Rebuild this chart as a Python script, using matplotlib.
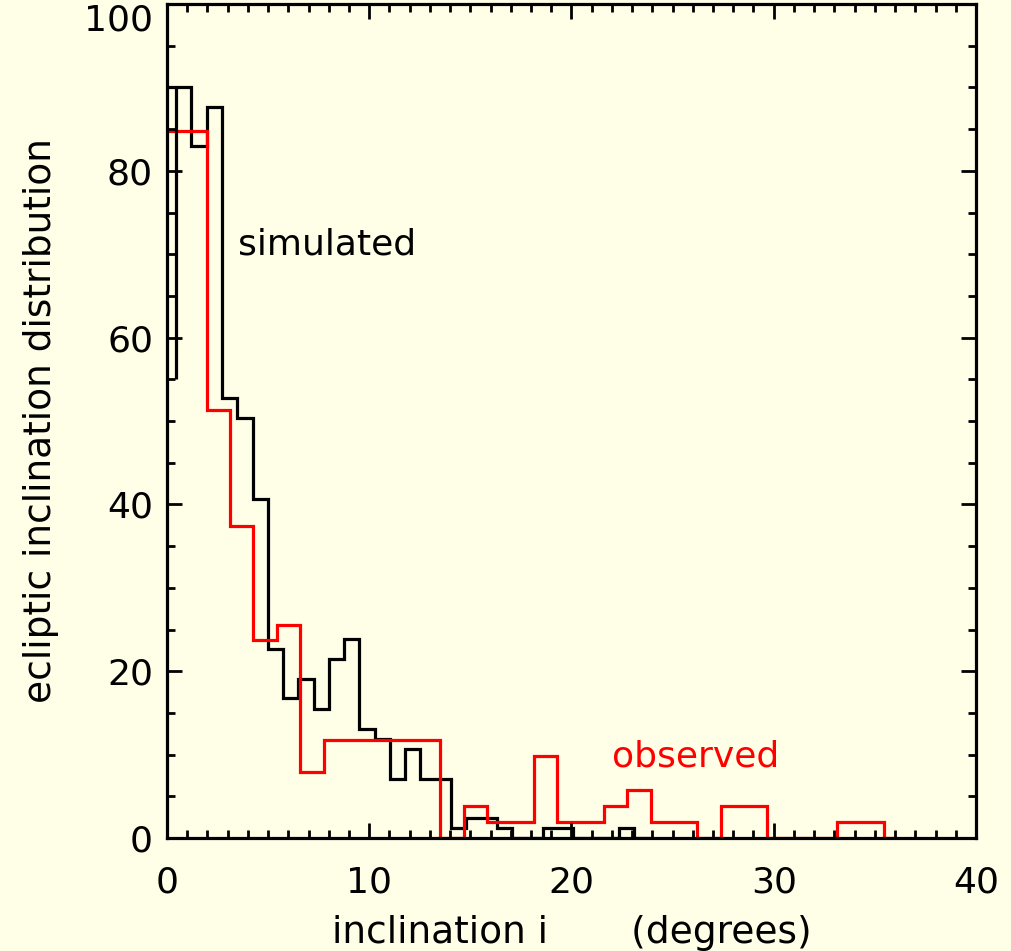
import matplotlib
matplotlib.use("Agg")
import matplotlib.pyplot as plt
import numpy as np

plt.rcParams['font.family'] = ['DejaVu Sans']

# simulated distribution (0.755 deg bins)
sim_edges = [0.0, 0.45, 1.21, 1.96, 2.72, 3.47, 4.23, 4.98, 5.74, 6.49, 7.25,
             8.0, 8.76, 9.51, 10.27, 11.02, 11.78, 12.53, 13.29, 14.04, 14.8,
             15.55, 16.31, 17.06, 17.82, 18.57, 19.33, 20.08, 20.84, 21.59,
             22.35, 23.1, 23.86]
sim_vals = [90.0, 90.0, 83.0, 87.6, 52.8, 50.4, 40.7, 22.7, 16.8, 19.1, 15.5,
            21.5, 23.9, 13.1, 11.9, 7.1, 10.7, 7.1, 7.1, 1.2, 2.4,
            2.4, 1.2, 0.0, 0.0, 1.2, 1.2, 0.0, 0.0, 0.0,
            1.2, 0.0]
sim_start = 55.0

# observed distribution (1.155 deg bins)
obs_edges = [0.0, 1.96, 3.11, 4.27, 5.42, 6.58, 7.74, 8.89, 10.05, 11.2, 12.36,
             13.51, 14.67, 15.82, 16.98, 18.13, 19.29, 20.44, 21.6, 22.75,
             23.91, 25.06, 26.22, 27.37, 28.53, 29.68, 30.84, 31.99, 33.15,
             34.3, 35.46, 36.0]
obs_vals = [84.8, 51.3, 37.4, 23.7, 25.5, 7.9, 11.75, 11.75, 11.75, 11.75,
            11.75, 0.0, 3.8, 1.96, 1.96, 9.8, 1.96, 1.96, 3.8, 5.8,
            1.96, 1.96, 0.0, 3.8, 3.8, 0.0, 0.0, 0.0, 1.9,
            1.9, 0.0]

xticks = [0, 10, 20, 30, 40]
yticks = [0, 20, 40, 60, 80, 100]
ytick_labels = ['0', '20', '40', '60', '80', '100']

bg = '#fffee6'
fs = 26
fig = plt.figure(figsize=(10.12, 9.51), dpi=100, facecolor=bg)
ax = fig.add_axes([0.165, 0.1188, 0.7994, 0.877])
ax.set_facecolor(bg)

ax.stairs(sim_vals, sim_edges, color='black', lw=2.3, baseline=None)
ax.vlines(sim_edges[1], sim_start, sim_vals[1], color='black', lw=2.3)
ax.stairs(obs_vals, obs_edges, color='red', lw=2.3, baseline=None)

ax.set_xlim(0, 40)
ax.set_ylim(0, 100)
ax.set_xticks(xticks)
ax.set_xticks(np.arange(0, 41, 1), minor=True)
ax.set_yticks(yticks)
ax.set_yticklabels(ytick_labels)
ax.set_yticks(np.arange(0, 101, 5), minor=True)

for s in ax.spines.values():
    s.set_linewidth(2.3)

ax.tick_params(which='both', direction='in', top=True, right=True,
               width=2.0, labelsize=fs)
ax.tick_params(which='major', length=11)
ax.tick_params(which='minor', length=6)
ax.tick_params(axis='x', which='major', pad=20)
ax.tick_params(axis='y', which='major', pad=10)

for lbl in ax.get_yticklabels():
    if lbl.get_text() == '100':
        lbl.set_verticalalignment('top')

ax.text(3.5, 70, 'simulated', fontsize=fs, color='black')
ax.text(22.0, 8.6, 'observed', fontsize=fs, color='red')

ax.set_xlabel('inclination i       (degrees)', fontsize=fs + 1, labelpad=11)
ax.set_ylabel('ecliptic inclination distribution', fontsize=fs + 1,
              labelpad=18)

fig.savefig('out.png', dpi=100, facecolor=bg)
